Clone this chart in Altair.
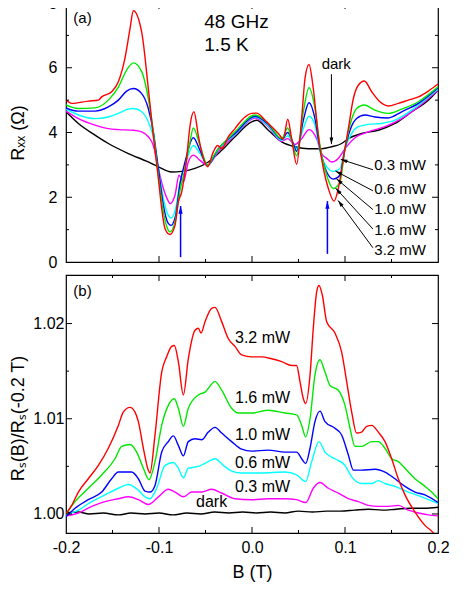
import math
import altair as alt
import pandas as pd

# ---------------- layout constants ----------------
W, HA, HB = 372, 259, 258
FONT = "Liberation Sans"

B_DOMAIN = [-0.2, 0.2]
RA_DOMAIN = [0, 8]
RB_DOMAIN = [0.998, 1.0251]

SERIES = ["dark", "0.3 mW", "0.6 mW", "1.0 mW", "1.6 mW", "3.2 mW"]
COLORS = ["#000000", "#ff00ff", "#00ffff", "#0000ff", "#00e800", "#ff0000"]

# ---------------- panel (a): Rxx (Ohm) vs B (T) ----------------
A_DARK = [(-0.2, 4.64), (-0.1867, 4.28), (-0.1688, 3.92), (-0.1545, 3.66), (-0.1330, 3.35),
          (-0.1115, 3.09), (-0.1007, 2.94), (-0.0864, 2.78), (-0.0756, 2.80), (-0.0613, 2.89),
          (-0.0470, 3.09), (-0.0326, 3.45), (-0.0183, 3.87), (-0.0004, 4.33), (0.0050, 4.38),
          (0.0176, 4.07), (0.0319, 3.71), (0.0462, 3.56), (0.0606, 3.50), (0.0749, 3.50),
          (0.0857, 3.56), (0.0964, 3.66), (0.1036, 3.81), (0.1179, 3.97), (0.1358, 4.07),
          (0.1538, 4.28), (0.1717, 4.64), (0.1896, 5.00), (0.2, 5.31)]
A_P03 = [(-0.2, 4.66), (-0.1867, 4.43), (-0.1688, 4.23), (-0.1545, 4.12), (-0.1437, 4.09),
         (-0.1276, 4.07), (-0.1186, 4.02), (-0.1115, 3.87), (-0.1061, 3.60), (-0.1007, 2.89),
         (-0.0953, 2.27), (-0.0900, 1.88), (-0.0882, 1.80), (-0.0828, 2.06), (-0.0785, 2.68),
         (-0.0738, 2.47), (-0.0685, 3.09), (-0.0631, 3.30), (-0.0559, 3.14), (-0.0477, 2.99),
         (-0.0362, 3.42), (-0.0183, 3.92), (0.0032, 4.45), (0.0176, 4.18), (0.0319, 3.73),
         (0.0384, 3.81), (0.0462, 3.63), (0.0534, 3.81), (0.0613, 4.09), (0.0695, 3.81),
         (0.0749, 3.35), (0.0803, 3.20), (0.0857, 3.09), (0.0928, 3.20), (0.1000, 3.50),
         (0.1108, 3.84), (0.1251, 4.02), (0.1430, 4.18), (0.1609, 4.43), (0.1789, 4.79), (0.2, 5.31)]
A_P06 = [(-0.2, 4.72), (-0.1867, 4.54), (-0.1688, 4.43), (-0.1545, 4.48), (-0.1437, 4.59),
         (-0.1330, 4.72), (-0.1276, 4.74), (-0.1186, 4.64), (-0.1115, 4.33), (-0.1061, 3.87),
         (-0.1007, 2.89), (-0.0953, 1.96), (-0.0900, 1.44), (-0.0871, 1.36), (-0.0821, 1.65),
         (-0.0774, 2.47), (-0.0720, 2.99), (-0.0631, 3.60), (-0.0559, 3.35), (-0.0477, 2.99),
         (-0.0362, 3.47), (-0.0183, 3.94), (0.0032, 4.48), (0.0176, 4.20), (0.0319, 3.76),
         (0.0384, 3.90), (0.0444, 3.66), (0.0480, 3.50), (0.0552, 4.12), (0.0613, 4.50),
         (0.0677, 4.23), (0.0731, 3.40), (0.0803, 2.94), (0.0875, 2.80), (0.0946, 2.89),
         (0.1000, 3.50), (0.1072, 3.97), (0.1143, 4.18), (0.1251, 4.25), (0.1394, 4.28),
         (0.1538, 4.38), (0.1717, 4.69), (0.2, 5.34)]
A_P10 = [(-0.2, 4.76), (-0.1867, 4.66), (-0.1688, 4.66), (-0.1545, 4.79), (-0.1437, 5.00),
         (-0.1348, 5.28), (-0.1276, 5.36), (-0.1186, 5.20), (-0.1115, 4.74), (-0.1061, 4.02),
         (-0.1007, 2.89), (-0.0953, 1.75), (-0.0900, 1.19), (-0.0871, 1.13), (-0.0821, 1.44),
         (-0.0774, 2.42), (-0.0720, 3.09), (-0.0631, 3.84), (-0.0559, 3.45), (-0.0477, 2.99),
         (-0.0362, 3.50), (-0.0183, 3.97), (0.0032, 4.50), (0.0176, 4.25), (0.0319, 3.79),
         (0.0384, 4.00), (0.0444, 3.66), (0.0480, 3.42), (0.0552, 4.38), (0.0613, 4.92),
         (0.0677, 4.43), (0.0731, 3.50), (0.0803, 2.78), (0.0875, 2.56), (0.0946, 2.68),
         (0.1000, 3.50), (0.1054, 4.07), (0.1125, 4.43), (0.1215, 4.54), (0.1323, 4.48),
         (0.1466, 4.45), (0.1609, 4.64), (0.1789, 4.90), (0.2, 5.38)]
A_P16 = [(-0.2, 4.85), (-0.1867, 4.74), (-0.1688, 4.76), (-0.1545, 5.00), (-0.1437, 5.40),
         (-0.1348, 5.93), (-0.1276, 6.15), (-0.1186, 5.88), (-0.1115, 5.05), (-0.1061, 4.02),
         (-0.1007, 2.68), (-0.0953, 1.55), (-0.0900, 0.98), (-0.0882, 0.93), (-0.0828, 1.24),
         (-0.0774, 2.20), (-0.0720, 2.89), (-0.0667, 3.71), (-0.0631, 4.14), (-0.0559, 3.60),
         (-0.0477, 2.99), (-0.0398, 3.35), (-0.0183, 4.02), (0.0032, 4.54), (0.0176, 4.28),
         (0.0319, 3.81), (0.0384, 4.14), (0.0427, 3.76), (0.0480, 3.28), (0.0552, 4.64),
         (0.0613, 5.38), (0.0677, 4.74), (0.0731, 3.60), (0.0803, 2.68), (0.0875, 2.27),
         (0.0946, 2.47), (0.1000, 3.50), (0.1054, 4.23), (0.1125, 4.74), (0.1208, 4.85),
         (0.1323, 4.69), (0.1466, 4.59), (0.1609, 4.72), (0.1789, 4.95), (0.2, 5.41)]
A_P32 = [(-0.2, 5.00), (-0.1939, 4.90), (-0.1760, 4.97), (-0.1652, 5.00), (-0.1616, 5.10),
         (-0.1509, 5.26), (-0.1437, 5.57), (-0.1366, 6.30), (-0.1312, 7.20), (-0.1276, 7.76),
         (-0.1186, 7.10), (-0.1115, 5.36), (-0.1061, 3.90), (-0.1007, 2.58), (-0.0971, 1.65),
         (-0.0935, 1.03), (-0.0882, 0.85), (-0.0828, 1.13), (-0.0792, 1.86), (-0.0756, 2.16),
         (-0.0703, 3.20), (-0.0667, 4.20), (-0.0624, 4.64), (-0.0577, 3.90), (-0.0523, 3.20),
         (-0.0477, 2.94), (-0.0416, 3.40), (-0.0369, 3.60), (-0.0326, 3.50), (-0.0254, 3.87),
         (-0.0183, 4.12), (-0.0111, 4.38), (-0.0004, 4.59), (0.0050, 4.60), (0.0140, 4.38),
         (0.0211, 4.18), (0.0283, 3.97), (0.0337, 3.80), (0.0384, 4.41), (0.0427, 3.80),
         (0.0480, 3.02), (0.0534, 4.43), (0.0570, 5.67), (0.0613, 6.10), (0.0659, 5.36),
         (0.0713, 3.90), (0.0767, 2.89), (0.0821, 2.27), (0.0882, 1.88), (0.0928, 2.27),
         (0.0982, 3.20), (0.1036, 4.12), (0.1090, 5.05), (0.1143, 5.46), (0.1208, 5.59),
         (0.1287, 5.26), (0.1376, 4.95), (0.1466, 4.82), (0.1573, 4.90), (0.1681, 5.00),
         (0.1789, 5.10), (0.1896, 5.28), (0.2, 5.50)]

# ---------------- panel (b): Rs(B)/Rs(-0.2 T) vs B (T) ----------------
B_DARK = [(-0.2, 1.0001), (-0.1867, 1.0002), (-0.175, 1.0000), (-0.16, 1.0001), (-0.1437, 0.9999),
          (-0.13, 1.0001), (-0.115, 1.0000), (-0.10, 1.0001), (-0.085, 0.9999), (-0.07, 1.0001),
          (-0.055, 1.0000), (-0.04, 1.0002), (-0.025, 1.0001), (-0.01, 1.0002), (0.005, 1.0001),
          (0.02, 1.0002), (0.035, 1.0001), (0.05, 1.0003), (0.065, 1.0002), (0.08, 1.0003),
          (0.095, 1.0003), (0.11, 1.0004), (0.125, 1.0005), (0.14, 1.0004), (0.155, 1.0005),
          (0.17, 1.0006), (0.185, 1.0006), (0.2, 1.0007)]
B_P03 = [(-0.2, 0.9998), (-0.1867, 1.0001), (-0.1724, 1.0008), (-0.1581, 1.0013), (-0.1437, 1.0016),
         (-0.1330, 1.0018), (-0.1222, 1.0015), (-0.1115, 1.0010), (-0.1007, 1.0018), (-0.0900, 1.0026),
         (-0.0828, 1.0023), (-0.0738, 1.0018), (-0.0649, 1.0023), (-0.0541, 1.0023), (-0.0434, 1.0026),
         (-0.0326, 1.0022), (-0.0183, 1.0016), (-0.0004, 1.0015), (0.0176, 1.0016), (0.0355, 1.0016),
         (0.0480, 1.0015), (0.0577, 1.0012), (0.0659, 1.0027), (0.0731, 1.0033), (0.0821, 1.0027),
         (0.0928, 1.0022), (0.1036, 1.0016), (0.1143, 1.0013), (0.1251, 1.0009), (0.1358, 1.0008),
         (0.1466, 1.0008), (0.1573, 1.0009), (0.1681, 1.0004), (0.1789, 1.0001), (0.1896, 0.9999),
         (0.2, 0.9998)]
B_P06 = [(-0.2, 0.9999), (-0.1867, 1.0004), (-0.1724, 1.0013), (-0.1581, 1.0020), (-0.1437, 1.0027),
         (-0.1330, 1.0031), (-0.1222, 1.0025), (-0.1151, 1.0018), (-0.1097, 1.0016), (-0.1025, 1.0027),
         (-0.0935, 1.0051), (-0.0846, 1.0054), (-0.0792, 1.0048), (-0.0738, 1.0038), (-0.0685, 1.0048),
         (-0.0577, 1.0050), (-0.0470, 1.0055), (-0.0398, 1.0058), (-0.0308, 1.0051), (-0.0219, 1.0045),
         (-0.0111, 1.0043), (0.0104, 1.0043), (0.0355, 1.0044), (0.0480, 1.0041), (0.0577, 1.0034),
         (0.0642, 1.0055), (0.0720, 1.0076), (0.0785, 1.0065), (0.0892, 1.0058), (0.1000, 1.0051),
         (0.1072, 1.0039), (0.1179, 1.0032), (0.1287, 1.0032), (0.1358, 1.0035), (0.1430, 1.0032),
         (0.1538, 1.0029), (0.1681, 1.0023), (0.1824, 1.0018), (0.2, 1.0011)]
B_P10 = [(-0.2, 0.9997), (-0.1903, 1.0006), (-0.1760, 1.0015), (-0.1616, 1.0023), (-0.1509, 1.0037),
         (-0.1437, 1.0044), (-0.1294, 1.0044), (-0.1222, 1.0037), (-0.1151, 1.0024), (-0.1097, 1.0023),
         (-0.1043, 1.0030), (-0.0971, 1.0065), (-0.0900, 1.0076), (-0.0846, 1.0082), (-0.0792, 1.0072),
         (-0.0738, 1.0061), (-0.0685, 1.0076), (-0.0613, 1.0079), (-0.0541, 1.0078), (-0.0470, 1.0086),
         (-0.0398, 1.0091), (-0.0326, 1.0085), (-0.0219, 1.0076), (-0.0111, 1.0068), (-0.0004, 1.0066),
         (0.0176, 1.0067), (0.0355, 1.0065), (0.0480, 1.0065), (0.0534, 1.0058), (0.0577, 1.0053),
         (0.0624, 1.0069), (0.0677, 1.0097), (0.0731, 1.0108), (0.0785, 1.0097), (0.0892, 1.0090),
         (0.0964, 1.0083), (0.1036, 1.0062), (0.1090, 1.0046), (0.1179, 1.0046), (0.1323, 1.0047),
         (0.1430, 1.0044), (0.1538, 1.0037), (0.1645, 1.0029), (0.1753, 1.0023), (0.1860, 1.0020),
         (0.2, 1.0012)]
B_P16 = [(-0.2, 1.0000), (-0.1903, 1.0013), (-0.1760, 1.0027), (-0.1616, 1.0041), (-0.1473, 1.0058),
         (-0.1401, 1.0071), (-0.1312, 1.0073), (-0.1240, 1.0065), (-0.1168, 1.0048), (-0.1108, 1.0036),
         (-0.1043, 1.0055), (-0.0971, 1.0093), (-0.0900, 1.0114), (-0.0835, 1.0121), (-0.0792, 1.0111),
         (-0.0738, 1.0092), (-0.0685, 1.0111), (-0.0577, 1.0125), (-0.0505, 1.0128), (-0.0398, 1.0139),
         (-0.0326, 1.0130), (-0.0219, 1.0111), (-0.0147, 1.0106), (-0.0004, 1.0106), (0.0176, 1.0109),
         (0.0355, 1.0106), (0.0480, 1.0104), (0.0534, 1.0093), (0.0577, 1.0081), (0.0624, 1.0100),
         (0.0677, 1.0146), (0.0731, 1.0162), (0.0785, 1.0149), (0.0839, 1.0135), (0.0928, 1.0130),
         (0.1000, 1.0114), (0.1054, 1.0090), (0.1108, 1.0071), (0.1179, 1.0071), (0.1287, 1.0076),
         (0.1358, 1.0076), (0.1430, 1.0069), (0.1502, 1.0058), (0.1573, 1.0055), (0.1645, 1.0048),
         (0.1753, 1.0037), (0.1860, 1.0029), (0.1932, 1.0023), (0.2, 1.0016)]
B_P32 = [(-0.2, 1.0000), (-0.1939, 1.0009), (-0.1867, 1.0023), (-0.1760, 1.0037), (-0.1652, 1.0051),
         (-0.1545, 1.0069), (-0.1437, 1.0093), (-0.1384, 1.0107), (-0.1312, 1.0112), (-0.1258, 1.0107),
         (-0.1222, 1.0097), (-0.1168, 1.0069), (-0.1115, 1.0046), (-0.1097, 1.0043), (-0.1043, 1.0083),
         (-0.0971, 1.0149), (-0.0918, 1.0165), (-0.0864, 1.0176), (-0.0835, 1.0177), (-0.0792, 1.0160),
         (-0.0738, 1.0125), (-0.0685, 1.0163), (-0.0613, 1.0193), (-0.0577, 1.0195), (-0.0548, 1.0190),
         (-0.0505, 1.0202), (-0.0434, 1.0216), (-0.0398, 1.0217), (-0.0326, 1.0202), (-0.0254, 1.0184),
         (-0.0183, 1.0176), (-0.0111, 1.0167), (-0.0004, 1.0165), (0.0104, 1.0165), (0.0211, 1.0163),
         (0.0319, 1.0160), (0.0427, 1.0156), (0.0480, 1.0156), (0.0516, 1.0139), (0.0552, 1.0121),
         (0.0577, 1.0116), (0.0624, 1.0146), (0.0659, 1.0195), (0.0695, 1.0233), (0.0720, 1.0240),
         (0.0756, 1.0230), (0.0803, 1.0202), (0.0892, 1.0190), (0.0964, 1.0170), (0.1018, 1.0139),
         (0.1072, 1.0107), (0.1125, 1.0085), (0.1179, 1.0086), (0.1233, 1.0092), (0.1287, 1.0093),
         (0.1358, 1.0086), (0.1430, 1.0076), (0.1502, 1.0058), (0.1573, 1.0037), (0.1645, 1.0020),
         (0.1753, 1.0002), (0.1860, 0.9988), (0.1950, 0.9980), (0.2, 0.9972)]

A_CURVES = [A_DARK, A_P03, A_P06, A_P10, A_P16, A_P32]
B_CURVES = [B_DARK, B_P03, B_P06, B_P10, B_P16, B_P32]

# ---------------- annotations ----------------
A_TAG = [("(a)", -0.1921, 7.53)]
A_TITLE = [("48 GHz", -0.0513, 7.42), ("1.5 K", -0.0513, 6.70)]
A_NOTES = [("dark", 0.0749, 6.13), ("0.3 mW", 0.1315, 2.99), ("0.6 mW", 0.1315, 2.24),
           ("1.0 mW", 0.1315, 1.64), ("1.6 mW", 0.1315, 0.98), ("3.2 mW", 0.1315, 0.36)]
# black arrows: tail B, tail R, tip B, tip R
A_BLACK_ARROWS = [(0.0854, 5.80, 0.0854, 3.64),
                  (0.1300, 2.85, 0.0954, 3.17),
                  (0.1300, 2.20, 0.0897, 2.81),
                  (0.1300, 1.62, 0.0908, 2.57),
                  (0.1300, 1.02, 0.0900, 2.28),
                  (0.1300, 0.44, 0.0926, 1.90)]
A_BLUE_ARROWS = [(-0.0768, 0.15, -0.0768, 1.73), (0.0811, 0.25, 0.0811, 1.88)]

B_TAG = [("(b)", -0.1921, 1.0234)]
B_NOTES = [("3.2 mW", -0.0183, 1.0185), ("1.6 mW", -0.0183, 1.0122), ("1.0 mW", -0.0183, 1.0083),
           ("0.6 mW", -0.0183, 1.0054), ("0.3 mW", -0.0183, 1.0028), ("dark", -0.0602, 1.0013)]

X_MAJOR = [-0.1, 0.0, 0.1]
X_MINOR = [-0.15, -0.05, 0.05, 0.15]
YA_MAJOR = [2, 4, 6]
YA_MINOR = [1, 3, 5, 7]
YB_MAJOR = [1.00, 1.01, 1.02]
YB_MINOR = [1.005, 1.015]

ARROW_PATH = "M0,0L-1,3.6L1,3.6Z"

xs = alt.Scale(domain=B_DOMAIN, nice=False, zero=False)
ysA = alt.Scale(domain=RA_DOMAIN, nice=False, zero=False)
ysB = alt.Scale(domain=RB_DOMAIN, nice=False, zero=False)
SX = W / (B_DOMAIN[1] - B_DOMAIN[0])


def curve_layers(curves, yscale, xaxis, yaxis):
    layers = []
    for name, col, pts in zip(SERIES, COLORS, curves):
        df = pd.DataFrame(pts, columns=["B", "R"])
        layers.append(
            alt.Chart(df).mark_line(color=col, strokeWidth=1.4, interpolate="monotone", clip=True)
            .encode(x=alt.X("B:Q", scale=xs, axis=xaxis),
                    y=alt.Y("R:Q", scale=yscale, axis=yaxis))
        )
    return layers


def tick_layers(yscale, ymaj, ymin, H, xaxis, yaxis):
    layers = []
    for vals, ln in ((X_MAJOR, 6), (X_MINOR, 3)):
        d = pd.DataFrame({"B": vals})
        for y0, y1 in ((H, H - ln), (0, ln)):
            layers.append(alt.Chart(d).mark_rule(color="black", strokeWidth=1)
                          .encode(x=alt.X("B:Q", scale=xs, axis=xaxis),
                                  y=alt.value(y0), y2=alt.value(y1)))
    for vals, ln in ((ymaj, 6), (ymin, 3)):
        d = pd.DataFrame({"R": vals})
        for x0, x1 in ((0, ln), (W, W - ln)):
            layers.append(alt.Chart(d).mark_rule(color="black", strokeWidth=1)
                          .encode(y=alt.Y("R:Q", scale=yscale, axis=yaxis),
                                  x=alt.value(x0), x2=alt.value(x1)))
    return layers


def text_layer(items, yscale, size, xaxis, yaxis):
    d = pd.DataFrame(items, columns=["t", "B", "R"])
    return alt.Chart(d).mark_text(align="left", baseline="middle", fontSize=size, color="black",
                                  font=FONT).encode(
        x=alt.X("B:Q", scale=xs, axis=xaxis), y=alt.Y("R:Q", scale=yscale, axis=yaxis), text="t:N")


def arrow_layers(arrows, yscale, sy, color, width, size, xaxis, yaxis):
    d = pd.DataFrame(arrows, columns=["B", "R", "B1", "R1"])
    d["ang"] = [math.degrees(math.atan2((b1 - b0) * SX, (r1 - r0) * sy)) % 360
                for b0, r0, b1, r1 in arrows]
    line = alt.Chart(d).mark_rule(color=color, strokeWidth=width).encode(
        x=alt.X("B:Q", scale=xs, axis=xaxis), x2="B1:Q",
        y=alt.Y("R:Q", scale=yscale, axis=yaxis), y2="R1:Q")
    head = alt.Chart(d).mark_point(shape=ARROW_PATH, filled=True, color=color, opacity=1,
                                   size=size, strokeWidth=0).encode(
        x=alt.X("B1:Q", scale=xs, axis=xaxis), y=alt.Y("R1:Q", scale=yscale, axis=yaxis),
        angle=alt.Angle("ang:Q", scale=None))
    return [line, head]


syA = HA / (RA_DOMAIN[1] - RA_DOMAIN[0])

xaxisA = None
yaxisA = alt.Axis(values=[0, 2, 4, 6, 8], format="d", title="R\u2093\u2093 (\u03a9)",
                  labelPadding=9, titleX=-43, titleBaseline="alphabetic", titleAngle=270)
panelA = alt.layer(
    *curve_layers(A_CURVES, ysA, xaxisA, yaxisA),
    *tick_layers(ysA, YA_MAJOR, YA_MINOR, HA, xaxisA, yaxisA),
    text_layer(A_TAG, ysA, 15, xaxisA, yaxisA),
    text_layer(A_TITLE, ysA, 19, xaxisA, yaxisA),
    text_layer(A_NOTES, ysA, 15, xaxisA, yaxisA),
    *arrow_layers(A_BLACK_ARROWS, ysA, syA, "black", 1, 14, xaxisA, yaxisA),
    *arrow_layers(A_BLUE_ARROWS, ysA, syA, "#0000ff", 1.5, 18, xaxisA, yaxisA),
).properties(width=W, height=HA)

xaxisB = alt.Axis(values=[-0.2, -0.1, 0.0, 0.1, 0.2],
                  labelExpr="replace(format(datum.value, '.1f'), '\u2212', '-')",
                  labelFlush=False, labelPadding=6, title="B (T)", titlePadding=8)
yaxisB = alt.Axis(values=YB_MAJOR, format=".2f", title="R\u209b(B)/R\u209b(-0.2 T)",
                  labelPadding=2, titleX=-43, titleY=143, titleBaseline="alphabetic", titleAngle=270)
panelB = alt.layer(
    *curve_layers(B_CURVES, ysB, xaxisB, yaxisB),
    *tick_layers(ysB, YB_MAJOR, YB_MINOR, HB, xaxisB, yaxisB),
    text_layer(B_TAG, ysB, 15, xaxisB, yaxisB),
    text_layer(B_NOTES, ysB, 16, xaxisB, yaxisB),
).properties(width=W, height=HB)

chart = alt.vconcat(panelA, panelB, spacing=2).properties(
    padding={"left": 0, "top": -14, "right": 5, "bottom": 5}
).configure_view(stroke="black", strokeWidth=1.2).configure_axis(
    labelFont=FONT, titleFont=FONT, labelFontSize=16, titleFontSize=18,
    titleFontWeight="normal", labelColor="black", titleColor="black",
    grid=False, ticks=False, domain=False
).configure_text(font=FONT)

chart.save("out.html", embed_options={"renderer": "svg", "actions": False})
